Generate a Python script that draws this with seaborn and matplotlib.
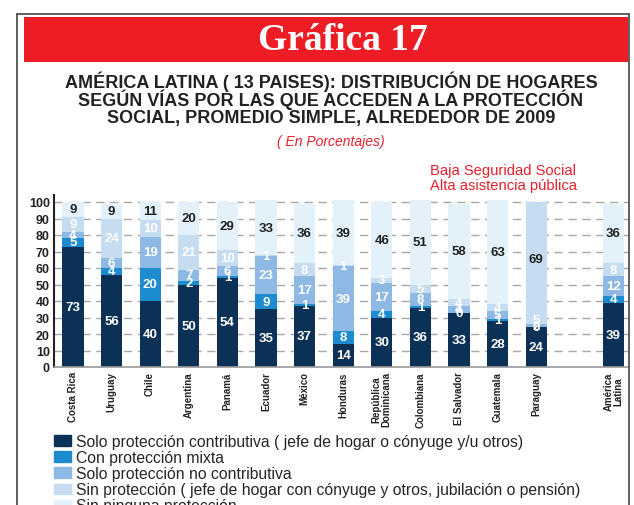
import numpy as np
import pandas as pd
import matplotlib
matplotlib.use("Agg")
import matplotlib.pyplot as plt
import matplotlib.patches as mpatches
from matplotlib.lines import Line2D
import seaborn as sns

paises = ["Costa Rica", "Uruguay", "Chile", "Argentina", "Panamá", "Ecuador", "México",
          "Honduras", "República\nDominicana", "Colombiana", "El Salvador", "Guatemala",
          "Paraguay", " ", "América\nLatina"]
contributiva = [73, 56, 40, 50, 54, 35, 37, 14, 30, 36, 33, 28, 24, np.nan, 39]
mixta = [5, 4, 20, 2, 1, 9, 1, 8, 4, 1, 0, 1, 0, np.nan, 4]
no_contributiva = [4, 6, 19, 7, 6, 23, 17, 39, 17, 8, 4, 5, 2, np.nan, 12]
sin_proteccion = [9, 24, 10, 21, 10, 1, 8, 1, 3, 5, 4, 4, 5, np.nan, 8]
ninguna = [9, 9, 11, 20, 29, 33, 36, 39, 46, 51, 58, 63, 69, np.nan, 36]

series_labels = [
    "Solo protección contributiva ( jefe de hogar o cónyuge y/u otros)",
    "Con protección mixta",
    "Solo protección no contributiva",
    "Sin protección ( jefe de hogar con cónyuge y otros, jubilación o pensión)",
    "Sin ninguna protección",
]
colors = ["#0b3157", "#1c8bd0", "#8db9e4", "#c6ddf1", "#e3f1fa"]

sns.set_theme(style="white")
plt.rcParams["font.family"] = ["Liberation Sans", "DejaVu Sans"]

W, H = 634, 506
fig = plt.figure(figsize=(W / 100, H / 100), dpi=100)

# Frame and banner
fig.add_artist(Line2D([17 / W, 17 / W], [0, 1 - 15 / H], color="#444444", lw=1.2))
fig.add_artist(Line2D([17 / W, 629 / W], [1 - 15 / H, 1 - 15 / H], color="#444444", lw=1.2))
fig.add_artist(Line2D([629 / W, 629 / W], [0, 1 - 15 / H], color="#444444", lw=1.2))
fig.add_artist(mpatches.Rectangle((24 / W, 1 - 63 / H), (628 - 24) / W, 45 / H,
                                  transform=fig.transFigure, color="#ee1d25", lw=0))
fig.text(343 / W, 1 - 41 / H, "Gráfica 17", family=["Liberation Serif"], weight="bold",
         color="white", fontsize=27, ha="center", va="center")
sub_lines = ["AMÉRICA LATINA ( 13 PAISES): DISTRIBUCIÓN DE HOGARES",
             "SEGÚN VÍAS POR LAS QUE ACCEDEN A LA PROTECCIÓN",
             "SOCIAL, PROMEDIO SIMPLE, ALREDEDOR DE 2009"]
for k, line in enumerate(sub_lines):
    fig.text(331 / W, 1 - (82 + 18 * k) / H, line, weight="bold", color="#222222",
             fontsize=13, ha="center", va="center")
fig.text(331 / W, 1 - 142 / H, "( En Porcentajes)", style="italic", color="#e8202a",
         fontsize=10, ha="center", va="center")
fig.text(430 / W, 1 - 171 / H, "Baja Seguridad Social", color="#e8202a", fontsize=10.6,
         ha="left", va="center")
fig.text(430 / W, 1 - 186 / H, "Alta asistencia pública", color="#e8202a", fontsize=10.6,
         ha="left", va="center")

ax = fig.add_axes([54 / W, 1 - 368 / H, (628 - 54) / W, (368 - 196.4) / H])

df = pd.DataFrame({"pais": paises, "s0": contributiva, "s1": mixta, "s2": no_contributiva,
                   "s3": sin_proteccion, "s4": ninguna})
vals = df[["s0", "s1", "s2", "s3", "s4"]].to_numpy(dtype=float)
cum = np.cumsum(vals, axis=1)

for i in range(4, -1, -1):
    n0 = len(ax.patches)
    d = pd.DataFrame({"pais": paises, "v": cum[:, i]})
    sns.barplot(data=d, x="pais", y="v", order=paises, color=colors[i], saturation=1,
                width=0.55, errorbar=None, ax=ax, zorder=2, linewidth=0)
    if i == 4:
        for p in ax.patches[n0:]:
            cx = p.get_x() + p.get_width() / 2
            if abs(cx - 12) < 0.3:
                p.set_facecolor(colors[3])

# value labels
for j in range(len(paises)):
    for i in range(5):
        v = vals[j, i]
        if np.isnan(v):
            continue
        base = cum[j, i] - v
        ax.text(j, base + v / 2, f"{int(v)}", ha="center", va="center", fontsize=9.5,
                weight="bold", color="white" if i < 4 else "#222222", zorder=5)

ax.set_xlim(-0.49, 14.38)
ax.set_ylim(0, 104)
ax.set_yticks(range(0, 101, 10))
ax.set_yticklabels([str(t) for t in range(0, 101, 10)], fontsize=9, weight="bold",
                   color="#222222")
ax.set_xticks(range(len(paises)))
ax.set_xticklabels(paises, rotation=90, fontsize=7, weight="bold", color="#222222",
                   va="top", ha="center", linespacing=1.0)
ax.set_xlabel("")
ax.set_ylabel("")
ax.tick_params(axis="both", length=0, pad=3)
for y in range(10, 101, 10):
    ax.axhline(y, color="#a8a8a8", lw=1.0, ls=(0, (6, 4)), zorder=1)
for s in ["top", "right"]:
    ax.spines[s].set_visible(False)
ax.spines["left"].set_color("#222222")
ax.spines["left"].set_linewidth(1.5)
ax.spines["bottom"].set_color("#9a9a9a")
ax.spines["bottom"].set_linewidth(1.2)
ax.set_facecolor("white")

handles = [mpatches.Patch(color=c, label=l) for c, l in zip(colors, series_labels)]
fig.legend(handles=handles, loc="upper left", bbox_to_anchor=(54 / W, 1 - 435 / H),
           frameon=False, fontsize=11.3, handlelength=1.1, handleheight=0.65,
           handletextpad=0.3, labelspacing=0.07, borderaxespad=0, borderpad=0)

fig.savefig("out.png", dpi=100, facecolor="white")
